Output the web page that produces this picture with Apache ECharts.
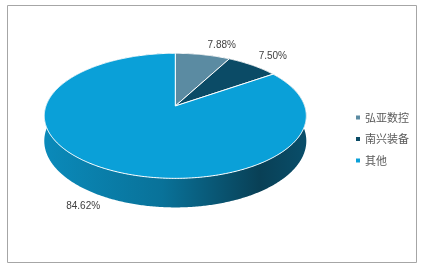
<!DOCTYPE html>
<html><head><meta charset="utf-8">
<script src="https://cdn.jsdelivr.net/npm/echarts@6/dist/echarts.min.js"></script>
<style>html,body{margin:0;padding:0;background:#fff}#c{width:421px;height:267px}</style>
</head><body><div id="c"></div>
<script>
var categories = ['弘亚数控', '南兴装备', '其他'];
var shares = [7.88, 7.50, 84.62];
var colors = ['#5b8ba2', '#0b4b66', '#0aa0d8'];

var total = shares.reduce(function (a, b) { return a + b; }, 0);
var starts = [];
(function () { var s = 0; for (var i = 0; i < shares.length; i++) { starts.push(s); s += shares[i]; } })();

// projection of a tilted disc
var CX = 175.3, CY = 106, R = 129.4, K = 61, KP = 0.157, H = 24.5;
function proj(t, drop) {
  var u = Math.sin(t), v = -Math.cos(t), w = 1 - KP * v;
  return [CX + R * u / w, CY + K * v / w + (drop || 0) / w];
}
function arc(a, b, drop) {
  var pts = [], n = Math.max(2, Math.ceil((b - a) / 0.01));
  for (var i = 0; i <= n; i++) pts.push(proj(a + (b - a) * i / n, drop));
  return pts;
}
function shade(color, f) {
  var c = echarts.color.parse(color);
  return 'rgb(' + Math.round(c[0] * f + 8 * (1 - f)) + ',' + Math.round(c[1] * f) + ',' + Math.round(c[2] * f) + ')';
}

function makeRender(color) {
  return function (params, api) {
    var val = api.value(0), st = api.value(1);
    var a = st / total * Math.PI * 2, b = (st + val) / total * Math.PI * 2;
    var top = arc(a, b, 0);
    var bot = arc(a, b, H).reverse();
    var grad = new echarts.graphic.LinearGradient(CX - R * 1.02, 0, CX + R * 1.02, 0, [
      { offset: 0, color: shade(color, 0.86) },
      { offset: 0.45, color: shade(color, 0.71) },
      { offset: 0.82, color: shade(color, 0.4) },
      { offset: 1, color: shade(color, 0.49) }
    ], true);
    var mid = (a + b) / 2, u = Math.sin(mid), v = -Math.cos(mid);
    var p = proj(mid, v > 0 ? H : 0);
    var lx = p[0] + (u >= 0 ? 4 : -4) + 3 * u, ly = p[1] + 5 * v;
    return {
      type: 'group',
      children: [
        { type: 'polygon', shape: { points: top.concat(bot) }, style: { fill: grad }, z2: 1 },
        { type: 'polygon', shape: { points: [[CX, CY]].concat(top) },
          style: { fill: color, stroke: '#ffffff', lineWidth: 1, lineJoin: 'round' }, z2: 10 },
        { type: 'text', x: lx, y: ly, z2: 20,
          style: { text: val.toFixed(2) + '%', fill: '#404040', fontSize: 10,
            fontFamily: 'Liberation Sans, Arial, sans-serif',
            align: u >= 0 ? 'left' : 'right', verticalAlign: v < 0 ? 'bottom' : 'top' } }
      ]
    };
  };
}

var series = categories.map(function (name, i) {
  return {
    type: 'custom', name: name, coordinateSystem: 'none',
    itemStyle: { color: colors[i] },
    data: [[shares[i], starts[i]]],
    renderItem: makeRender(colors[i]),
    animation: false
  };
});

var chart = echarts.init(document.getElementById('c'), null, { renderer: 'canvas' });
chart.setOption({
  animation: false,
  legend: {
    orient: 'vertical', left: 351, top: 107,
    data: categories, icon: 'rect', itemWidth: 4, itemHeight: 4, itemGap: 10.5,
    textStyle: { fontSize: 11, lineHeight: 11, color: '#595959', fontFamily: 'Noto Sans CJK SC, sans-serif' }
  },
  graphic: [{ type: 'rect', shape: { x: 7.5, y: 5.5, width: 409, height: 257 },
    style: { fill: 'none', stroke: '#a6a6a6', lineWidth: 1 }, silent: true }],
  series: series
});
</script></body></html>
